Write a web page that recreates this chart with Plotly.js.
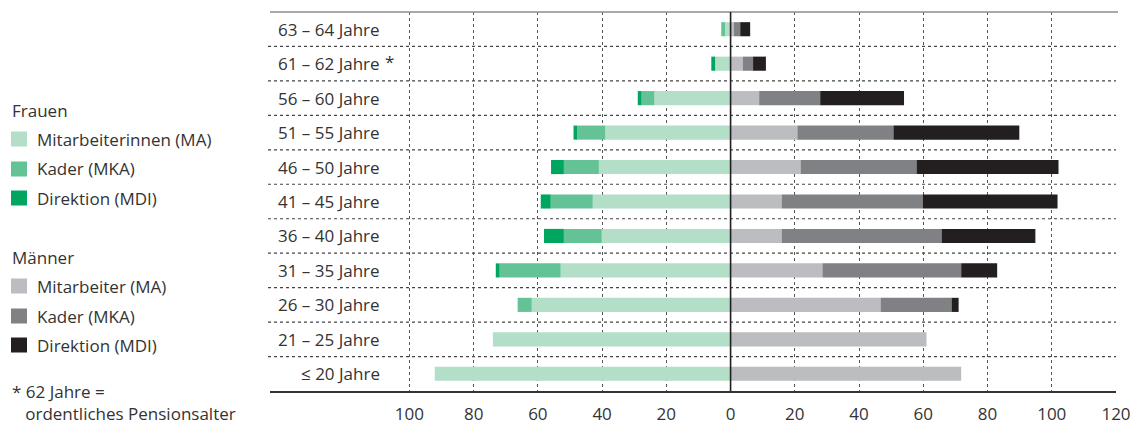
<!DOCTYPE html>
<html>
<head>
<meta charset="utf-8">
<script src="https://cdn.plot.ly/plotly-3.0.1.min.js"></script>
<style>html,body{margin:0;padding:0;background:#fff;}#chart{width:1133px;height:425px;}</style>
</head>
<body>
<div id="chart"></div>
<script>
// ---- data ----
const categories = ["63 – 64 Jahre","61 – 62 Jahre","56 – 60 Jahre","51 – 55 Jahre","46 – 50 Jahre","41 – 45 Jahre","36 – 40 Jahre","31 – 35 Jahre","26 – 30 Jahre","21 – 25 Jahre","≤ 20 Jahre"];
const frauenMA  = [1.7, 4.8, 23.7, 39.0, 41.0, 42.9, 40.1, 52.9, 61.9, 74.0, 92.1];
const frauenMKA = [1.2, 0, 4.0, 8.7, 10.9, 13.1, 11.8, 19.0, 4.4, 0, 0];
const frauenMDI = [0, 1.2, 1.2, 1.2, 4.0, 3.1, 6.2, 1.2, 0, 0, 0];
const maennerMA  = [1.0, 3.8, 8.9, 20.8, 21.8, 15.9, 15.9, 28.6, 46.7, 61.0, 71.8];
const maennerMKA = [2.0, 3.2, 19.0, 29.9, 36.1, 43.9, 49.8, 43.2, 22.1, 0, 0];
const maennerMDI = [3.1, 4.0, 26.1, 39.2, 44.2, 42.0, 29.2, 11.2, 2.2, 0, 0];
const tickValues = [-100,-80,-60,-40,-20,0,20,40,60,80,100,120];
const tickLabels = ["100","80","60","40","20","0","20","40","60","80","100","120"];
const legendFrauen = ["Mitarbeiterinnen (MA)","Kader (MKA)","Direktion (MDI)"];
const legendMaenner = ["Mitarbeiter (MA)","Kader (MKA)","Direktion (MDI)"];
const colorsFrauen = ["#b3dec8","#64c396","#00a660"];
const colorsMaenner = ["#bcbdc0","#808185","#231f20"];
const footnote = "*&nbsp;62 Jahre =<br>&nbsp;&nbsp;&nbsp;ordentliches Pensionsalter";

const FONT = "Open Sans, sans-serif";
const TXT = "#333333";
const W = 1133, H = 425;
const L = 270, R = 1116, T = 12, B = 391;
const px2x = p => (p - L) / (R - L);
const py2y = p => (B - p) / (B - T);

const yIdx = categories.map((c, i) => i);
function bar(vals, color, neg) {
  return {
    type: 'bar', orientation: 'h',
    y: yIdx, x: vals.map(v => v === 0 ? null : (neg ? -v : v)),
    marker: {color: color, line: {width: 0}},
    hoverinfo: 'skip', showlegend: false
  };
}
const data = [
  bar(frauenMA, colorsFrauen[0], true),
  bar(frauenMKA, colorsFrauen[1], true),
  bar(frauenMDI, colorsFrauen[2], true),
  bar(maennerMA, colorsMaenner[0], false),
  bar(maennerMKA, colorsMaenner[1], false),
  bar(maennerMDI, colorsMaenner[2], false)
];

const shapes = [];
const annotations = [];
// horizontal dotted separators
for (let i = 0; i < categories.length - 1; i++) {
  shapes.push({type: 'line', xref: 'paper', yref: 'y', x0: px2x(268), x1: 1, y0: i + 0.5, y1: i + 0.5,
    line: {color: '#444444', width: 1.2, dash: 'dot'}, layer: 'below'});
}
// top border
shapes.push({type: 'line', xref: 'paper', yref: 'paper', x0: 0, x1: px2x(1118), y0: 1, y1: 1,
  line: {color: '#8c8c8c', width: 1.6}});
// zero line
shapes.push({type: 'line', xref: 'x', yref: 'paper', x0: 0, x1: 0, y0: 0, y1: 1,
  line: {color: '#231f20', width: 1.6}, layer: 'above'});

// category labels
categories.forEach((c, i) => {
  annotations.push({xref: 'x', yref: 'y', x: -108.4, y: i, text: c, showarrow: false,
    xanchor: 'right', yanchor: 'middle', font: {family: FONT, size: 17, color: TXT}});
});
annotations.push({xref: 'x', yref: 'y', x: -108.2, y: 1, text: '*', showarrow: false,
  xanchor: 'left', yanchor: 'middle', yshift: 2, font: {family: FONT, size: 17, color: TXT}});

// legend
function legText(text, xp, yp) {
  annotations.push({xref: 'paper', yref: 'paper', x: px2x(xp), y: py2y(yp), text: text, showarrow: false,
    xanchor: 'left', yanchor: 'middle', align: 'left', font: {family: FONT, size: 17, color: TXT}});
}
function swatch(color, yp) {
  shapes.push({type: 'rect', xref: 'paper', yref: 'paper', x0: px2x(11), x1: px2x(27),
    y0: py2y(yp + 7.5), y1: py2y(yp - 7.5), fillcolor: color, line: {width: 0}});
}
legText('Frauen', 10, 110);
const fy = [139, 169, 198];
legendFrauen.forEach((t, i) => { swatch(colorsFrauen[i], fy[i]); legText(t, 35, fy[i]); });
legText('Männer', 10, 257);
const my = [286, 316, 345];
legendMaenner.forEach((t, i) => { swatch(colorsMaenner[i], my[i]); legText(t, 35, my[i]); });
legText(footnote, 10, 402);

const layout = {
  width: W, height: H,
  margin: {l: L, r: W - R, t: T, b: H - B, pad: 0},
  paper_bgcolor: '#ffffff', plot_bgcolor: '#ffffff',
  barmode: 'relative', bargap: 0.59,
  font: {family: FONT, size: 17, color: TXT},
  xaxis: {
    range: [-143.4, 120], tickvals: tickValues, ticktext: tickLabels,
    showgrid: true, gridcolor: '#555555', gridwidth: 1, griddash: 'dot',
    zeroline: false, showline: true, linecolor: '#333333', linewidth: 2,
    ticks: 'outside', ticklen: 7, tickcolor: 'rgba(0,0,0,0)',
    tickfont: {family: FONT, size: 17, color: TXT}, fixedrange: true
  },
  yaxis: {
    range: [categories.length - 0.5, -0.5], showticklabels: false, showgrid: false,
    zeroline: false, showline: false, ticks: '', fixedrange: true
  },
  shapes: shapes, annotations: annotations, showlegend: false
};
Plotly.newPlot('chart', data, layout, {displayModeBar: false, staticPlot: true});
</script>
</body>
</html>
